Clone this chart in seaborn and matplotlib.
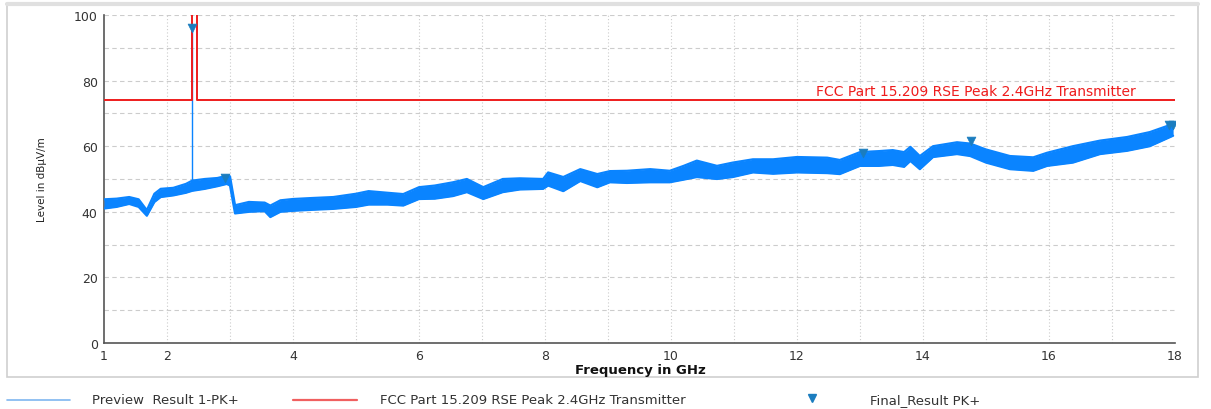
import numpy as np
import pandas as pd
import matplotlib
matplotlib.use("Agg")
import matplotlib.pyplot as plt
from matplotlib.lines import Line2D
from matplotlib.patches import Rectangle
import matplotlib.transforms as mtransforms
import seaborn as sns

freq = [1.00, 1.20, 1.40, 1.55, 1.68, 1.80, 1.90, 2.10, 2.30, 2.40, 2.60, 2.80,
        2.95, 3.00, 3.08, 3.30, 3.55, 3.64, 3.80, 4.00, 4.30, 4.64, 5.00, 5.20,
        5.50, 5.75, 6.00, 6.25, 6.54, 6.76, 7.02, 7.33, 7.60, 7.97, 8.05, 8.29,
        8.56, 8.83, 9.03, 9.30, 9.67, 9.98, 10.20, 10.41, 10.73, 10.98, 11.30,
        11.62, 12.00, 12.48, 12.68, 13.00, 13.30, 13.52, 13.70, 13.80, 13.95,
        14.16, 14.54, 14.75, 15.00, 15.38, 15.75, 15.97, 16.38, 16.81, 17.24,
        17.60, 17.97]
level_lo = [41.0, 41.5, 42.4, 41.5, 38.8, 43.0, 44.5, 45.0, 45.8, 46.4, 47.0, 47.8,
            48.5, 48.0, 39.5, 40.0, 40.2, 38.4, 40.0, 40.3, 40.6, 40.9, 41.5, 42.2,
            42.2, 41.9, 43.9, 44.0, 44.8, 46.0, 43.9, 46.0, 46.8, 47.0, 48.0, 46.3,
            49.4, 47.5, 49.0, 48.8, 49.0, 49.0, 49.8, 50.6, 50.0, 50.6, 52.0,
            51.6, 52.0, 51.8, 51.5, 54.0, 54.0, 54.3, 53.7, 55.5, 53.0,
            56.7, 57.6, 57.0, 55.0, 53.0, 52.5, 54.0, 55.0, 57.6, 58.6,
            60.0, 63.2]
level_hi = [43.8, 44.0, 44.5, 43.8, 40.5, 45.5, 47.0, 47.3, 48.5, 49.5, 50.0, 50.3,
            51.0, 50.8, 42.0, 43.0, 42.8, 41.9, 43.5, 43.9, 44.2, 44.5, 45.5, 46.3,
            45.8, 45.4, 47.5, 48.0, 49.0, 50.0, 47.5, 50.0, 50.2, 50.0, 52.0, 50.6,
            53.0, 51.5, 52.4, 52.5, 53.0, 52.5, 54.0, 55.6, 54.0, 55.0, 56.0,
            56.0, 56.7, 56.5, 55.8, 58.2, 58.5, 58.8, 58.2, 59.8, 57.0,
            60.0, 61.2, 60.8, 59.0, 57.0, 56.6, 58.0, 60.0, 61.7, 62.8,
            64.3, 66.8]

# carrier spike in the preview trace
spike_freq = 2.40
spike_base = 48.0
spike_top = 96.0

# FCC limit line
limit_freq = [1.0, 2.4, 2.4, 2.4835, 2.4835, 18.0]
limit_level = [74, 74, 150, 150, 74, 74]

# final result peaks
final_freq = [2.40, 2.92, 13.04, 14.76, 17.90, 17.97]
final_level = [96.0, 50.3, 57.8, 61.5, 66.4, 66.4]

x_major = list(range(1, 19))
x_labels = ["1", "2", "", "4", "", "6", "", "8", "", "10", "", "12", "", "14", "", "16", "", "18"]

blue = "#0a84ff"
red = "#ee1c1c"
marker_col = "#1b7dbf"

sns.set_style("white")
plt.rcParams["font.family"] = ["DejaVu Sans"]

fig = plt.figure(figsize=(12.11, 4.10), dpi=100)
ax = fig.add_axes([104 / 1211, 1 - 344 / 410, (1175 - 104) / 1211, (344 - 16) / 410])

# outer frame
fig.add_artist(Rectangle((7 / 1211, 1 - 378 / 410), (1198 - 7) / 1211, (378 - 5) / 410,
                         transform=fig.transFigure, fill=False, edgecolor="#cfcfcf", lw=1.2))
fig.add_artist(Line2D([7 / 1211, 1198 / 1211], [1 - 5 / 410, 1 - 5 / 410],
                      transform=fig.transFigure, color="#e0e0e0", lw=3))

ax.fill_between(freq, level_lo, level_hi, color=blue, lw=0, zorder=3)
ax.plot(freq, level_lo, color=blue, lw=1.6, zorder=3)
ax.plot(freq, level_hi, color=blue, lw=1.6, zorder=3)
ax.vlines(spike_freq, spike_base, spike_top, color=blue, lw=1.0, zorder=3)

lim = pd.DataFrame({"f": limit_freq, "lvl": limit_level})
sns.lineplot(data=lim, x="f", y="lvl", sort=False, estimator=None, color=red, lw=1.4, ax=ax, zorder=4)

fin = pd.DataFrame({"f": final_freq, "lvl": final_level})
sns.scatterplot(data=fin, x="f", y="lvl", marker="v", s=40, color=marker_col,
                edgecolor=marker_col, ax=ax, zorder=5)

ax.set_xlim(1, 18)
ax.set_ylim(0, 100)
ax.set_xticks(x_major)
ax.set_xticklabels(x_labels)
ax.set_yticks([0, 20, 40, 60, 80, 100])
ax.set_yticks([10, 30, 50, 70, 90], minor=True)
ax.tick_params(axis="both", which="both", direction="inout", length=5, width=0.8,
               color="#444444", labelsize=9, labelcolor="#333333", pad=2)
ax.set_xlabel("")
ax.set_ylabel("")

for v in range(10, 101, 10):
    ax.axhline(v, color="#cccccc", lw=0.8, ls=(0, (4, 3)), zorder=1)
for v in range(2, 18):
    ax.axvline(v, color="#cccccc", lw=0.8, ls=(0, (1, 2)), zorder=1)

for s in ["top", "right"]:
    ax.spines[s].set_visible(False)
for s in ["left", "bottom"]:
    ax.spines[s].set_color("#555555")
    ax.spines[s].set_linewidth(1.2)

trans = mtransforms.blended_transform_factory(ax.transAxes, ax.transData)
ax.text((816 - 104) / 1071, 74.6, "FCC Part 15.209 RSE Peak 2.4GHz Transmitter",
        transform=trans, fontsize=10, color=red, ha="left", va="bottom", clip_on=False)

fig.text(640 / 1211, 1 - 371 / 410, "Frequency in GHz", ha="center", va="center",
         fontsize=9.5, fontweight="bold", color="#111111")
fig.text(42 / 1211, 1 - 180 / 410, "Level in dBµV/m", ha="center", va="center",
         rotation=90, fontsize=7.5, color="#222222")

# legend drawn below the frame
ly = 1 - 401 / 410
fs = 9.5
fig.add_artist(Line2D([7 / 1211, 70 / 1211], [ly, ly], transform=fig.transFigure, color="#7fb6f0", lw=1.2))
fig.text(92 / 1211, ly, "Preview  Result 1-PK+", fontsize=fs, color="#333333", va="center")
fig.add_artist(Line2D([293 / 1211, 357 / 1211], [ly, ly], transform=fig.transFigure, color="#f06060", lw=1.6))
fig.text(380 / 1211, ly, "FCC Part 15.209 RSE Peak 2.4GHz Transmitter", fontsize=fs, color="#333333", va="center")
fig.add_artist(Line2D([812 / 1211], [ly + 0.004], transform=fig.transFigure, marker="v", ms=6,
                      color=marker_col, lw=0))
fig.text(870 / 1211, ly, "Final_Result PK+", fontsize=fs, color="#333333", va="center")

fig.savefig("out.png", dpi=100)
